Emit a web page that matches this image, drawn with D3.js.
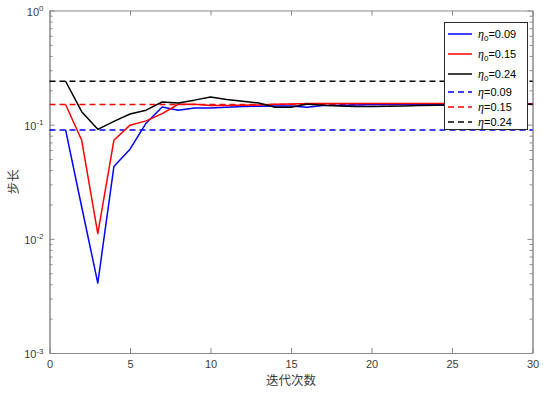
<!DOCTYPE html>
<html>
<head>
<meta charset="utf-8">
<script src="https://cdn.jsdelivr.net/npm/d3@7"></script>
<style>
  body { margin: 0; background: #fff; }
  svg { display: block; font-family: "Liberation Sans", Arial, sans-serif; }
</style>
</head>
<body>
<svg width="543" height="395"></svg>
<script>
// iteration index
const iterations = [1, 2, 3, 4, 5, 6, 7, 8, 9, 10, 11, 12, 13, 14, 15, 16, 17, 18, 19, 20, 21, 22, 23, 24, 25, 26, 27, 28, 29, 30]

// step size for eta0 = 0.09 / 0.15 / 0.24
const step009 = [0.09, 0.019, 0.0041, 0.043, 0.061, 0.103, 0.143, 0.134, 0.14, 0.14, 0.142, 0.144, 0.145, 0.146, 0.146, 0.142, 0.147, 0.148, 0.149, 0.15, 0.15, 0.151, 0.151, 0.151, 0.152, 0.152, 0.152, 0.152, 0.152, 0.152]
const step015 = [0.15, 0.073, 0.0111, 0.073, 0.099, 0.108, 0.125, 0.151, 0.151, 0.147, 0.147, 0.148, 0.149, 0.151, 0.152, 0.153, 0.153, 0.153, 0.153, 0.153, 0.153, 0.153, 0.153, 0.153, 0.153, 0.153, 0.153, 0.152, 0.152, 0.152]
const step024 = [0.24, 0.13, 0.091, 0.107, 0.124, 0.134, 0.158, 0.155, 0.164, 0.175, 0.166, 0.16, 0.155, 0.142, 0.142, 0.152, 0.148, 0.146, 0.144, 0.144, 0.145, 0.146, 0.147, 0.148, 0.149, 0.15, 0.151, 0.151, 0.151, 0.151]

// fixed step sizes (dashed)
const fixedEta = [0.09, 0.15, 0.24]
const fixedRange = [0, 30]

const colors = ["#0000ff", "#ff0000", "#000000"]
const xTicks = [0, 5, 10, 15, 20, 25, 30]
const yTicks = [1e-3, 1e-2, 1e-1, 1]

const svg = d3.select("svg")
const mLeft = 49.5, mRight = 532.5, mTop = 10.5, mBottom = 353

const x = d3.scaleLinear().domain([0, 30]).range([mLeft, mRight])
const y = d3.scaleLog().domain([1e-3, 1]).range([mBottom, mTop])

const minor = []
for (let e = -3; e < 0; e++) {
    for (let m = 2; m <= 9; m++) minor.push(m * Math.pow(10, e))
}

const axisColor = "#8a8a8a"
const textColor = "#3c3c3c"

function styleAxis(g){
    g.selectAll("path.domain").attr("stroke", axisColor).attr("stroke-width", 1)
    g.selectAll(".tick line").attr("stroke", axisColor)
    g.selectAll(".tick text").attr("fill", textColor).style("font-size", "11px")
        .style("font-family", "'Liberation Sans', Arial, sans-serif")
}

// minor ticks (log axis)
svg.append("g").attr("transform", `translate(${mLeft},0)`)
    .call(d3.axisLeft(y).tickValues(minor).tickSizeInner(-3).tickSizeOuter(0).tickFormat(""))
    .call(styleAxis)
svg.append("g").attr("transform", `translate(${mRight},0)`)
    .call(d3.axisRight(y).tickValues(minor).tickSizeInner(-3).tickSizeOuter(0).tickFormat(""))
    .call(styleAxis)

// major y ticks
svg.append("g").attr("transform", `translate(${mLeft},0)`)
    .call(d3.axisLeft(y).tickValues(yTicks).tickSizeInner(-5).tickSizeOuter(0).tickPadding(6).tickFormat(() => "10"))
    .call(styleAxis)
    .call(g => g.selectAll(".tick text")
        .attr("dy", "0.45em")
        .append("tspan")
        .attr("dy", "-0.6em")
        .style("font-size", "8px")
        .text(d => Math.round(Math.log10(d))))
svg.append("g").attr("transform", `translate(${mRight},0)`)
    .call(d3.axisRight(y).tickValues(yTicks).tickSizeInner(-5).tickSizeOuter(0).tickFormat(""))
    .call(styleAxis)

// x ticks
svg.append("g").attr("transform", `translate(0,${mBottom})`)
    .call(d3.axisBottom(x).tickValues(xTicks).tickSizeInner(-5).tickSizeOuter(0).tickPadding(7).tickFormat(d3.format("d")))
    .call(styleAxis)
svg.append("g").attr("transform", `translate(0,${mTop})`)
    .call(d3.axisTop(x).tickValues(xTicks).tickSizeInner(-5).tickSizeOuter(0).tickFormat(""))
    .call(styleAxis)

// axis labels
svg.append("text")
    .attr("x", (mLeft + mRight) / 2)
    .attr("y", 385)
    .attr("text-anchor", "middle")
    .style("font-family", "'Noto Sans CJK SC', sans-serif")
    .style("font-size", "12.5px")
    .attr("fill", textColor)
    .text("迭代次数")

svg.append("text")
    .attr("transform", `translate(18,${(mTop + mBottom) / 2}) rotate(-90)`)
    .attr("text-anchor", "middle")
    .style("font-family", "'Noto Sans CJK SC', sans-serif")
    .style("font-size", "12.5px")
    .attr("fill", textColor)
    .text("步长")

const plot = svg.append("g")

const line = d3.line()
    .x(d => x(d[0]))
    .y(d => y(d[1]))

// dashed constant lines
fixedEta.forEach((v, i) => {
    plot.append("path")
        .datum(fixedRange.map(t => [t, v]))
        .attr("d", line)
        .attr("fill", "none")
        .attr("stroke", colors[i])
        .attr("stroke-width", 1.5)
        .attr("stroke-dasharray", "6,4")
})

// adaptive step curves
const series = [step009, step015, step024]
series.forEach((s, i) => {
    plot.append("path")
        .datum(iterations.map((t, j) => [t, s[j]]))
        .attr("d", line)
        .attr("fill", "none")
        .attr("stroke", colors[i])
        .attr("stroke-width", 1.5)
        .attr("stroke-linejoin", "round")
})

// legend
const legendRows = [
    { eta: "0.09", sub: true, color: colors[0], dash: null, y: 34 },
    { eta: "0.15", sub: true, color: colors[1], dash: null, y: 54 },
    { eta: "0.24", sub: true, color: colors[2], dash: null, y: 74 },
    { eta: "0.09", sub: false, color: colors[0], dash: "6,4", y: 92 },
    { eta: "0.15", sub: false, color: colors[1], dash: "6,4", y: 107 },
    { eta: "0.24", sub: false, color: colors[2], dash: "6,4", y: 122 }
]

const legend = svg.append("g")
legend.append("rect")
    .attr("x", 444.5).attr("y", 22.5)
    .attr("width", 83).attr("height", 107)
    .attr("fill", "#fff")
    .attr("stroke", "#2a2a2a")
    .attr("stroke-width", 1)

const rows = legend.selectAll("g.row")
    .data(legendRows)
    .enter()
    .append("g")
    .attr("class", "row")
    .attr("transform", d => `translate(0,${d.y})`)

rows.append("line")
    .attr("x1", 448).attr("x2", 472)
    .attr("y1", 0).attr("y2", 0)
    .attr("stroke", d => d.color)
    .attr("stroke-width", 1.5)
    .attr("stroke-dasharray", d => d.dash)

const label = rows.append("text")
    .attr("x", 478)
    .attr("y", 4)
    .style("font-size", "11px")
    .attr("fill", "#000")

label.append("tspan")
    .style("font-family", "'Liberation Serif', 'Times New Roman', serif")
    .style("font-style", "italic")
    .style("font-size", "12px")
    .text("η")
label.filter(d => d.sub).append("tspan")
    .attr("dy", 3)
    .style("font-size", "8px")
    .text("0")
label.append("tspan")
    .attr("dy", d => d.sub ? -3 : 0)
    .text(d => "=" + d.eta)
</script>
</body>
</html>
